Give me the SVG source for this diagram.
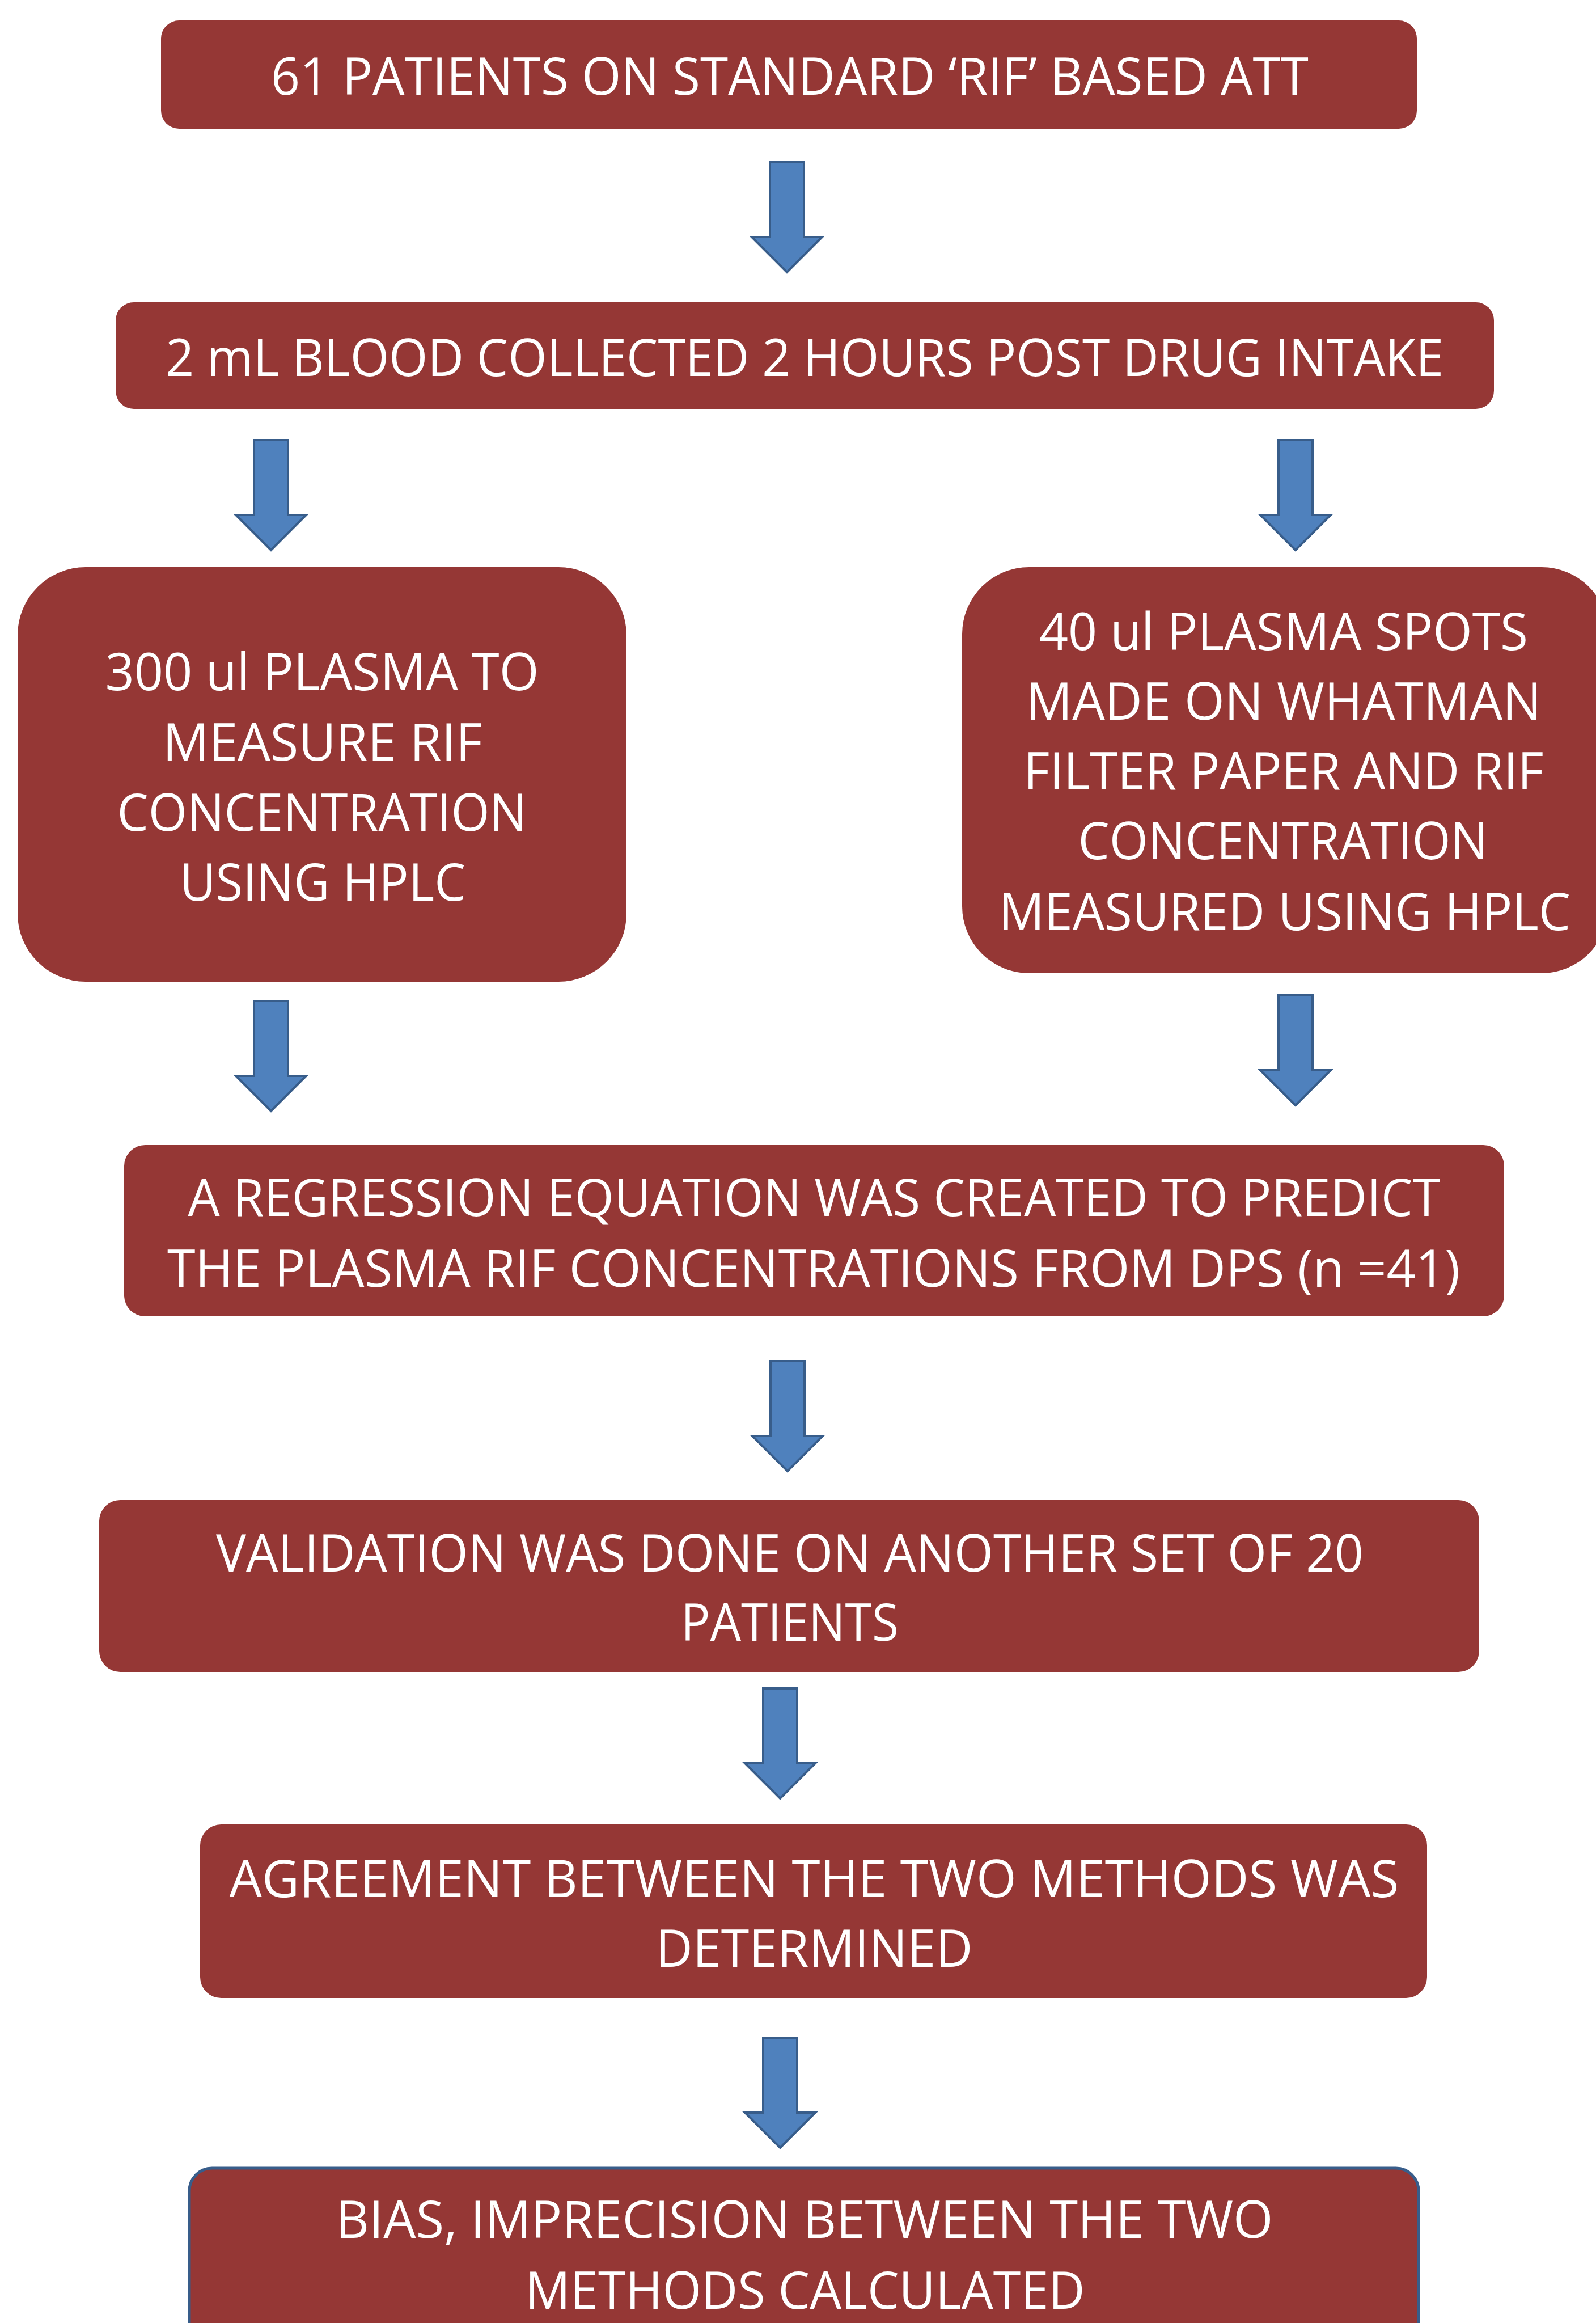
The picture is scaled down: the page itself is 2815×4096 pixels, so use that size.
<svg xmlns="http://www.w3.org/2000/svg" width="2815" height="4096" viewBox="0 0 2815 4096">
<defs>
<style>
.box{fill:#953735;}
.t{font-family:"Open Sans","Liberation Sans",sans-serif;font-size:92px;fill:#ffffff;text-anchor:middle;}
.arr{fill:#4F81BD;stroke:#385D8A;stroke-width:4;stroke-linejoin:miter;}
</style>
<path id="a" d="M-30,0 H30 V132 H62 L0,194 L-62,132 H-30 Z"/>
</defs>
<rect width="2815" height="4096" fill="#ffffff"/>
<g id="connectors">
<use href="#a" class="arr" transform="translate(1388,286)"/>
<use href="#a" class="arr" transform="translate(478,776)"/>
<use href="#a" class="arr" transform="translate(2285,776)"/>
<use href="#a" class="arr" transform="translate(478,1765)"/>
<use href="#a" class="arr" transform="translate(2285,1755)"/>
<use href="#a" class="arr" transform="translate(1389,2400)"/>
<use href="#a" class="arr" transform="translate(1376,2977)"/>
<use href="#a" class="arr" transform="translate(1376,3593)"/>
</g>
<g id="n1">
<rect class="box" x="284" y="36" width="2215" height="191" rx="32"/>
<text class="t" x="1393" y="167" textLength="1830" lengthAdjust="spacingAndGlyphs">61 PATIENTS ON STANDARD ‘RIF’ BASED ATT</text>
</g>
<g id="n2">
<rect class="box" x="204" y="533" width="2431" height="188" rx="32"/>
<text class="t" x="1419" y="663" textLength="2254" lengthAdjust="spacingAndGlyphs">2 mL BLOOD COLLECTED 2 HOURS POST DRUG INTAKE</text>
</g>
<g id="n3">
<rect class="box" x="31" y="1000" width="1074" height="731" rx="120"/>
<text class="t" x="568" y="1217" textLength="765" lengthAdjust="spacingAndGlyphs">300 ul PLASMA TO</text>
<text class="t" x="569" y="1341" textLength="564" lengthAdjust="spacingAndGlyphs">MEASURE RIF</text>
<text class="t" x="568" y="1465" textLength="723" lengthAdjust="spacingAndGlyphs">CONCENTRATION</text>
<text class="t" x="569" y="1588" textLength="504" lengthAdjust="spacingAndGlyphs">USING HPLC</text>
</g>
<g id="n4">
<rect class="box" x="1697" y="1000" width="1140" height="716" rx="118"/>
<text class="t" x="2264" y="1146" textLength="862" lengthAdjust="spacingAndGlyphs">40 ul PLASMA SPOTS</text>
<text class="t" x="2264" y="1269" textLength="909" lengthAdjust="spacingAndGlyphs">MADE ON WHATMAN</text>
<text class="t" x="2264" y="1392" textLength="917" lengthAdjust="spacingAndGlyphs">FILTER PAPER AND RIF</text>
<text class="t" x="2263" y="1515" textLength="723" lengthAdjust="spacingAndGlyphs">CONCENTRATION</text>
<text class="t" x="2266" y="1640" textLength="1008" lengthAdjust="spacingAndGlyphs">MEASURED USING HPLC</text>
</g>
<g id="n5">
<rect class="box" x="219" y="2019" width="2434" height="302" rx="37"/>
<text class="t" x="1436" y="2144" textLength="2209" lengthAdjust="spacingAndGlyphs">A REGRESSION EQUATION WAS CREATED TO PREDICT</text>
<text class="t" x="1435" y="2269" textLength="2280" lengthAdjust="spacingAndGlyphs">THE PLASMA RIF CONCENTRATIONS FROM DPS (n =41)</text>
</g>
<g id="n6">
<rect class="box" x="175" y="2645" width="2434" height="303" rx="37"/>
<text class="t" x="1393" y="2771" textLength="2024" lengthAdjust="spacingAndGlyphs">VALIDATION WAS DONE ON ANOTHER SET OF 20</text>
<text class="t" x="1393" y="2893" textLength="384" lengthAdjust="spacingAndGlyphs">PATIENTS</text>
</g>
<g id="n7">
<rect class="box" x="353" y="3217" width="2164" height="306" rx="37"/>
<text class="t" x="1436" y="3345" textLength="2063" lengthAdjust="spacingAndGlyphs">AGREEMENT BETWEEN THE TWO METHODS WAS</text>
<text class="t" x="1436" y="3468" textLength="559" lengthAdjust="spacingAndGlyphs">DETERMINED</text>
</g>
<g id="n8">
<rect class="box" x="334" y="3823" width="2168" height="360" rx="40" stroke="#385D8A" stroke-width="5"/>
<text class="t" x="1419" y="3946" textLength="1653" lengthAdjust="spacingAndGlyphs">BIAS, IMPRECISION BETWEEN THE TWO</text>
<text class="t" x="1420" y="4071" textLength="987" lengthAdjust="spacingAndGlyphs">METHODS CALCULATED</text>
</g>
</svg>
